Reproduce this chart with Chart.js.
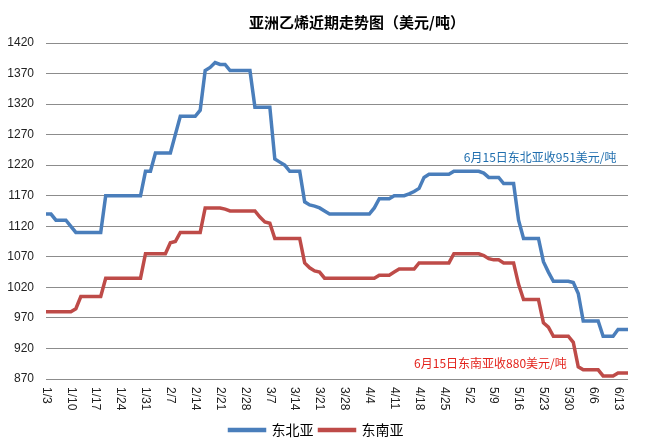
<!DOCTYPE html>
<html>
<head>
<meta charset="utf-8">
<script src="https://cdn.jsdelivr.net/npm/chart.js@4"></script>
<style>
  html, body { margin: 0; padding: 0; background: #fff; }
  #wrap { width: 650px; height: 447px; }
</style>
</head>
<body>
<div id="wrap"><canvas id="myChart"></canvas></div>
<script>
const chartTitle = '亚洲乙烯近期走势图（美元/吨）';
const seriesNames = ['东北亚', '东南亚'];

// trading days, 2011-01-03 .. 2011-06-15
const dates = ('1/3 1/4 1/5 1/6 1/7 1/10 1/11 1/12 1/13 1/14 1/17 1/18 1/19 1/20 1/21 1/24 1/25 1/26 1/27 1/28 1/31 ' +
  '2/1 2/2 2/3 2/4 2/7 2/8 2/9 2/10 2/11 2/14 2/15 2/16 2/17 2/18 2/21 2/22 2/23 2/24 2/25 2/28 ' +
  '3/1 3/2 3/3 3/4 3/7 3/8 3/9 3/10 3/11 3/14 3/15 3/16 3/17 3/18 3/21 3/22 3/23 3/24 3/25 3/28 3/29 3/30 3/31 ' +
  '4/1 4/4 4/5 4/6 4/7 4/8 4/11 4/12 4/13 4/14 4/15 4/18 4/19 4/20 4/21 4/22 4/25 4/26 4/27 4/28 4/29 ' +
  '5/2 5/3 5/4 5/5 5/6 5/9 5/10 5/11 5/12 5/13 5/16 5/17 5/18 5/19 5/20 5/23 5/24 5/25 5/26 5/27 5/30 5/31 ' +
  '6/1 6/2 6/3 6/6 6/7 6/8 6/9 6/10 6/13 6/14 6/15').split(' ');

const northeast = [
  1140, 1140, 1130, 1130, 1130, 1120, 1110, 1110, 1110, 1110,
  1110, 1110, 1170, 1170, 1170, 1170, 1170, 1170, 1170, 1170,
  1210, 1210, 1240, 1240, 1240, 1240, 1270, 1300, 1300, 1300,
  1300, 1310, 1375, 1380, 1388, 1385, 1385, 1375, 1375, 1375,
  1375, 1375, 1315, 1315, 1315, 1315, 1230, 1225, 1220, 1210,
  1210, 1210, 1160, 1155, 1153, 1150, 1145, 1140, 1140, 1140,
  1140, 1140, 1140, 1140, 1140, 1140, 1150, 1165, 1165, 1165,
  1170, 1170, 1170, 1173, 1177, 1182, 1200, 1205, 1205, 1205,
  1205, 1205, 1210, 1210, 1210, 1210, 1210, 1210, 1207, 1200,
  1200, 1200, 1190, 1190, 1190, 1130, 1100, 1100, 1100, 1100,
  1062, 1045, 1030, 1030, 1030, 1030, 1028, 1010, 965, 965,
  965, 965, 940, 940, 940, 951, 951, 951
];

const southeast = [
  980, 980, 980, 980, 980, 980, 985, 1005, 1005, 1005,
  1005, 1005, 1035, 1035, 1035, 1035, 1035, 1035, 1035, 1035,
  1075, 1075, 1075, 1075, 1075, 1093, 1095, 1110, 1110, 1110,
  1110, 1110, 1150, 1150, 1150, 1150, 1148, 1145, 1145, 1145,
  1145, 1145, 1145, 1135, 1127, 1125, 1100, 1100, 1100, 1100,
  1100, 1100, 1060, 1052, 1047, 1045, 1035, 1035, 1035, 1035,
  1035, 1035, 1035, 1035, 1035, 1035, 1035, 1040, 1040, 1040,
  1045, 1050, 1050, 1050, 1050, 1060, 1060, 1060, 1060, 1060,
  1060, 1060, 1075, 1075, 1075, 1075, 1075, 1075, 1072, 1067,
  1065, 1065, 1060, 1060, 1060, 1025, 1000, 1000, 1000, 1000,
  962, 955, 940, 940, 940, 940, 930, 890, 885, 885,
  885, 885, 875, 875, 875, 880, 880, 880
];

const yMin = 870, yMax = 1420, yStep = 50;
const labelEvery = 5;

// closing notes, anchored at [category index, value]
const notes = [
  { text: '6月15日东北亚收951美元/吨', at: [84, 1232], color: '#1F6EAE' },
  { text: '6月15日东南亚收880美元/吨', at: [74, 896], color: '#E3231C' }
];

const latin = "'Liberation Sans', 'Noto Sans CJK SC', sans-serif";
const cjk = "'Noto Sans CJK SC', sans-serif";

const extras = {
  id: 'extras',
  afterDraw(chart) {
    const c = chart.ctx;
    const xs = chart.scales.x, ys = chart.scales.y;
    const area = chart.chartArea;
    c.save();

    // title
    c.font = 'bold 15px ' + cjk;
    c.fillStyle = '#000';
    c.textAlign = 'center';
    c.textBaseline = 'middle';
    c.fillText(chartTitle, 357, 22);

    // x labels, turned clockwise
    c.font = '12px ' + latin;
    c.fillStyle = '#222';
    c.textAlign = 'left';
    for (let i = 0; i < dates.length; i += labelEvery) {
      const x = xs.getPixelForValue(i);
      c.save();
      c.translate(x, area.bottom + 8);
      c.rotate(Math.PI / 2);
      c.fillText(dates[i], 0, 0);
      c.restore();
    }

    // notes
    c.font = '12px ' + cjk;
    notes.forEach(n => {
      c.fillStyle = n.color;
      c.fillText(n.text, xs.getPixelForValue(n.at[0]), ys.getPixelForValue(n.at[1]));
    });
    c.restore();
  }
};

const ctx = document.getElementById('myChart');

new Chart(ctx, {
  type: 'line',
  data: {
    labels: dates,
    datasets: [{
      label: seriesNames[0],
      data: northeast,
      borderColor: '#4A7EBB',
      backgroundColor: '#4A7EBB',
      borderWidth: 3.5,
      pointRadius: 0,
      tension: 0
    }, {
      label: seriesNames[1],
      data: southeast,
      borderColor: '#BE4B48',
      backgroundColor: '#BE4B48',
      borderWidth: 3.5,
      pointRadius: 0,
      tension: 0
    }]
  },
  options: {
    responsive: true,
    maintainAspectRatio: false,
    animation: false,
    layout: { padding: { left: 5, right: 22, top: 43, bottom: 0 } },
    scales: {
      x: {
        grid: { display: false },
        border: { display: false },
        ticks: { display: false },
        afterFit(scale) { scale.height = 38; }
      },
      y: {
        min: yMin,
        max: yMax,
        grid: { color: '#8C8C8C', drawTicks: false },
        border: { display: false },
        ticks: {
          stepSize: yStep,
          padding: 12,
          color: '#222',
          font: { family: latin, size: 12 },
          callback: v => String(v)
        },
        afterFit(scale) { scale.width = 41; }
      }
    },
    plugins: {
      legend: {
        position: 'bottom',
        labels: {
          boxWidth: 35,
          boxHeight: 1,
          padding: 6,
          color: '#000',
          font: { family: cjk, size: 14 }
        }
      },
      tooltip: { enabled: false }
    }
  },
  plugins: [extras]
});
</script>
</body>
</html>
